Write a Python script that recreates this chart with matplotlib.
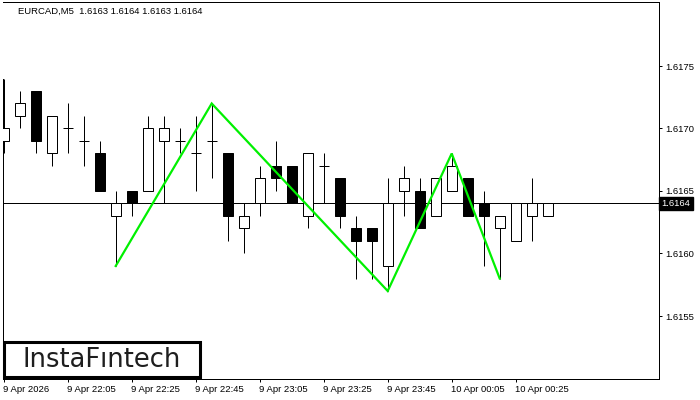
import matplotlib
matplotlib.use("Agg")
import matplotlib.pyplot as plt
from matplotlib.patches import Rectangle
import matplotlib.transforms as mtransforms

# ---- data ----
symbol_title = "EURCAD,M5  1.6163 1.6164 1.6163 1.6164"
opens  = [1.6169, 1.6171, 1.6173, 1.6168, 1.6170, 1.6169, 1.6168, 1.6163, 1.6165, 1.6165,
          1.6169, 1.6169, 1.6168, 1.6169, 1.6168, 1.6162, 1.6164, 1.6167, 1.6167, 1.6163,
          1.6167, 1.6166, 1.6162, 1.6162, 1.6159, 1.6165, 1.6165, 1.6163, 1.6165, 1.6166,
          1.6164, 1.6162, 1.6161, 1.6163, 1.6163]
highs  = [1.6174, 1.6173, 1.6173, 1.6171, 1.6172, 1.6171, 1.6169, 1.6165, 1.6165, 1.6171,
          1.6171, 1.6170, 1.6171, 1.6172, 1.6168, 1.6164, 1.6167, 1.6169, 1.6167, 1.6168,
          1.6168, 1.6166, 1.6163, 1.6162, 1.6166, 1.6167, 1.6166, 1.6166, 1.6168, 1.6166,
          1.6165, 1.6163, 1.6164, 1.6166, 1.6164]
lows   = [1.6168, 1.6170, 1.6168, 1.6167, 1.6168, 1.6167, 1.6165, 1.6159, 1.6163, 1.6165,
          1.6164, 1.6168, 1.6165, 1.6166, 1.6161, 1.6160, 1.6163, 1.6165, 1.6164, 1.6162,
          1.6164, 1.6162, 1.6158, 1.6158, 1.6157, 1.6163, 1.6162, 1.6163, 1.6165, 1.6163,
          1.6159, 1.6158, 1.6161, 1.6161, 1.6163]
closes = [1.6170, 1.6172, 1.6169, 1.6171, 1.6170, 1.6169, 1.6165, 1.6164, 1.6164, 1.6170,
          1.6170, 1.6169, 1.6168, 1.6169, 1.6163, 1.6163, 1.6166, 1.6166, 1.6164, 1.6168,
          1.6167, 1.6163, 1.6161, 1.6161, 1.6164, 1.6166, 1.6162, 1.6166, 1.6167, 1.6163,
          1.6163, 1.6163, 1.6164, 1.6164, 1.6164]
pattern_idx = [7, 13, 24, 28, 31]
pattern_price = [1.6159, 1.6172, 1.6157, 1.6168, 1.6158]
current_price = 1.6164
price_ticks = [1.6155, 1.6160, 1.6165, 1.6170, 1.6175]
time_tick_idx = [0, 4, 8, 12, 16, 20, 24, 28, 32]
time_tick_labels = ["9 Apr 2026", "9 Apr 22:05", "9 Apr 22:25", "9 Apr 22:45", "9 Apr 23:05",
                    "9 Apr 23:25", "9 Apr 23:45", "10 Apr 00:05", "10 Apr 00:25"]
logo_text = "InstaF\u0131ntech"

W, H = 700, 400
fig = plt.figure(figsize=(7, 4), dpi=100)
ax = fig.add_axes([2.7 / W, 21 / H, (659.3 - 2.7) / W, 377 / H])
ax.set_xlim(-0.0625, 40.975)
ax.set_ylim(1.614996, 1.618012)

fontname = "Liberation Sans"
fs = 6.8
px = 0.72  # one pixel in points

bw = 0.625
for i, (o, h, l, c) in enumerate(zip(opens, highs, lows, closes)):
    ax.vlines(i, l, h, color="black", lw=px, zorder=2)
    if abs(o - c) < 1e-9:
        ax.hlines(o, i - bw / 2, i + bw / 2, color="black", lw=px, zorder=3)
    else:
        bottom = min(o, c)
        face = "white" if c > o else "black"
        ax.add_patch(Rectangle((i - bw / 2, bottom), bw, abs(c - o), facecolor=face,
                               edgecolor="black", lw=px, zorder=3))

ax.axhline(current_price, color="black", lw=px, zorder=1)
ax.plot(pattern_idx, pattern_price, color="#00f000", lw=1.6, zorder=4,
        solid_joinstyle="miter")

for s in ["top", "right", "bottom"]:
    ax.spines[s].set_linewidth(px)
ax.spines["left"].set_linewidth(px)
ax.spines["left"].set_bounds(1.614996, highs[0])

ax.yaxis.tick_right()
ax.set_yticks(price_ticks)
ax.set_yticklabels([f"{p:.4f}" for p in price_ticks], fontname=fontname, fontsize=fs)
ax.tick_params(axis="y", direction="out", length=2.5, width=px, pad=2, left=False)
ax.set_xticks(time_tick_idx)
ax.set_xticklabels(time_tick_labels, fontname=fontname, fontsize=fs, ha="left")
ax.tick_params(axis="x", direction="out", length=2.5, width=px, pad=2)
for lab in ax.get_xticklabels():
    lab.set_transform(lab.get_transform() + mtransforms.ScaledTranslation(-1 / 100, 0, fig.dpi_scale_trans))

# current price label on right axis
trans = mtransforms.blended_transform_factory(ax.transAxes, ax.transData)
ax.text(1.003, current_price, f"{current_price:.4f}", transform=trans, color="white",
        fontname=fontname, fontsize=fs, va="center", ha="left", zorder=10,
        bbox=dict(boxstyle="square,pad=0.25", facecolor="black", edgecolor="black"),
        clip_on=False)

fig.text(18 / W, 1 - 11 / H, symbol_title, fontname=fontname, fontsize=fs,
         va="center", ha="left", color="black")

# logo
fig.patches.append(Rectangle((4 / W, (H - 377) / H), 196 / W, 35 / H, transform=fig.transFigure,
                             facecolor="white", edgecolor="black", lw=2.2, zorder=20))
fig.text(102 / W, (H - 360) / H, logo_text, fontsize=18.5, family="DejaVu Sans",
         color="#1e1e1e", ha="center", va="center", zorder=21)

fig.savefig("out.png", dpi=100)
